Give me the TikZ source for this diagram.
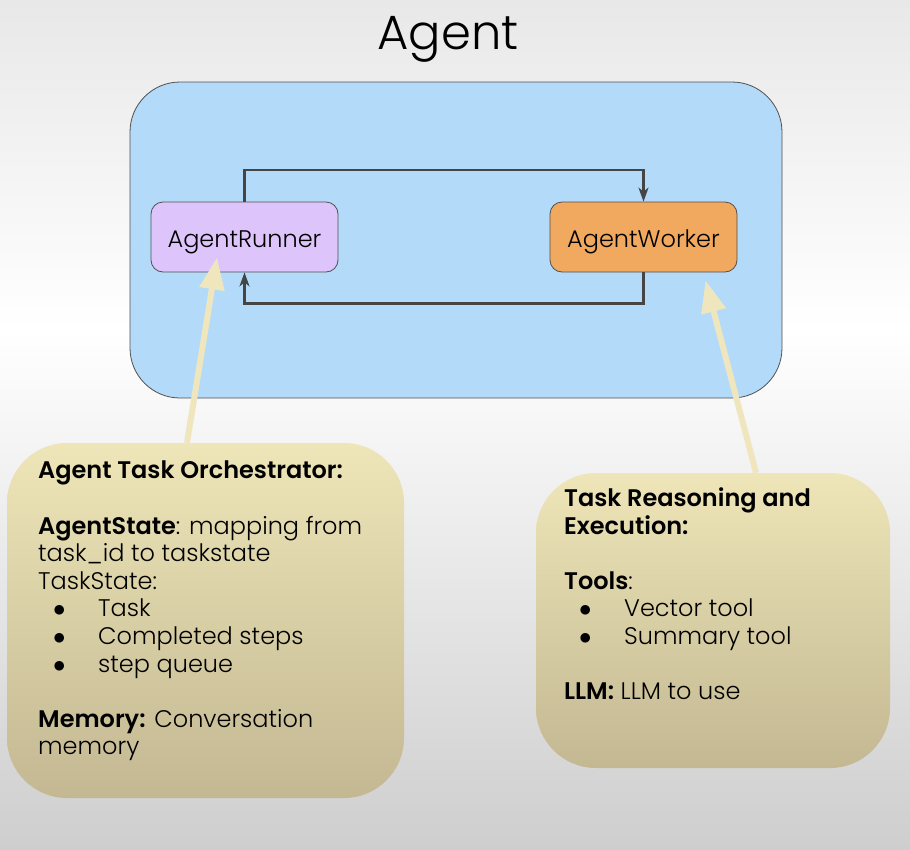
\documentclass[tikz,border=0pt]{standalone}
\usepackage{fontspec}
\setmainfont{Poppins}[UprightFont={* Light}, BoldFont={* SemiBold}]
\usepackage{tikz}
\usetikzlibrary{arrows.meta, positioning}

\definecolor{bgtop}{HTML}{E8E8E8}
\definecolor{bgbottom}{HTML}{CECECE}
\definecolor{agentblue}{HTML}{B3DBF9}
\definecolor{runnerlilac}{HTML}{DDC5FB}
\definecolor{workerorange}{HTML}{F1A85F}
\definecolor{edgegray}{HTML}{505050}
\definecolor{linegray}{HTML}{454545}
\definecolor{cream}{HTML}{EFE6BE}
\definecolor{tantop}{HTML}{EEE5B8}
\definecolor{tanbottom}{HTML}{C3B892}

\newcommand{\bulletline}[1]{\hspace*{15pt}\makebox[45pt][l]{\smash{$\bullet$}}#1}

\begin{document}
\begin{tikzpicture}[x=1pt, y=-1pt,
  arro/.style = {-{Stealth[length=14pt, width=10pt, inset=4pt]}, line width=2.2pt, draw=linegray},
  pointer/.style = {-{Triangle[length=32pt, width=24pt]}, line width=6pt, draw=cream}]

\tikzstyle{agentbox} = [draw=edgegray, line width=0.8pt, rounded corners=12pt, minimum width=187pt, minimum height=70pt, text height=20pt, text depth=0pt, font=\fontsize{24}{28}\selectfont]
\tikzstyle{notebox} = [rounded corners=60pt, top color=tantop, bottom color=tanbottom, inner sep=0pt]
\tikzstyle{notetext} = [anchor=north west, align=left, inner sep=0pt, font=\fontsize{24}{27.6}\selectfont]

% background
\shade[top color=bgtop, bottom color=white] (0,0) rectangle (910,330);
\shade[top color=white, bottom color=bgbottom] (0,330) rectangle (910,849);
\useasboundingbox (0,0) rectangle (910,849);

% title
\node[font=\fontsize{48}{56}\selectfont] at (448,39) (title) {Agent};

% agent container
\node[draw=edgegray, line width=0.8pt, fill=agentblue, rounded corners=50pt, minimum width=652pt, minimum height=316pt] at (456,240) (agent) {};

% runner and worker
\node[agentbox, fill=runnerlilac] at (244.5,237) (runner) {AgentRunner};
\node[agentbox, fill=workerorange] at (643.5,237) (worker) {AgentWorker};
% connections
\draw[arro] (runner.north) -- ++(0,-32) -| (worker.north);
\draw[arro] (worker.south) -- ++(0,31) -| (runner.south);

% notes
\node[notebox, minimum width=397pt, minimum height=355pt] at (205.5,620.5) (orch) {};
\node[notebox, minimum width=354pt, minimum height=295pt] at (713,620.5) (reason) {};
% note texts
\node[notetext] at (38,461) (orchtext) {\textbf{Agent Task Orchestrator:}\\[27.6pt]
  \textbf{AgentState}: mapping from\\
  task\_id to taskstate\\
  TaskState:\\
  \bulletline{Task}\\
  \bulletline{Completed steps}\\
  \bulletline{step queue}\\[27.6pt]
  \textbf{Memory:} Conversation\\
  memory};
\node[notetext] at (564,487.5) (reasontext) {\textbf{Task Reasoning and}\\
  \textbf{Execution:}\\[27.6pt]
  \textbf{Tools}:\\
  \bulletline{Vector tool}\\
  \bulletline{Summary tool}\\[27.6pt]
  \textbf{LLM:} LLM to use};

% pointers
\draw[pointer] ([xshift=-18.5pt]orch.north) -- ([xshift=-27.5pt, yshift=15pt]runner.south);
\draw[pointer] ([xshift=43pt]reason.north) -- ([xshift=62pt, yshift=-8pt]worker.south);
\end{tikzpicture}
\end{document}
